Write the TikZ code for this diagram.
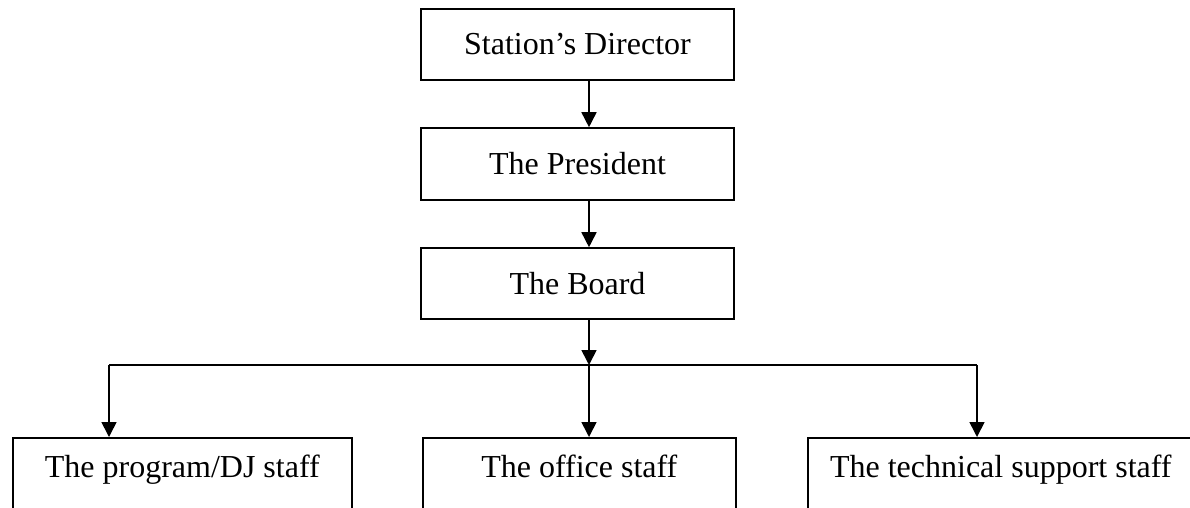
\documentclass[tikz,border=0pt]{standalone}
\usepackage{fontspec}
\setmainfont{Liberation Serif}
\usetikzlibrary{arrows.meta}
\begin{document}
\begin{tikzpicture}[
                x = 1pt, y = -1pt,
                box/.style = {draw, line width = 1.6pt, inner sep = 0mm, minimum width = 313pt, minimum height = 71pt, font = \fontsize{32}{38}\selectfont},
                staff/.style = {draw, line width = 1.6pt, inner sep = 0mm, anchor = north west, minimum height = 120pt},
                txt/.style = {inner sep = 0mm, anchor = base, font = \fontsize{32}{38}\selectfont},
                arr/.style = {draw, line width = 1.6pt, -{Triangle[width = 15pt, length = 15pt]}},
            ]
            \useasboundingbox (0,0) rectangle (1190,507);
            \clip (0,0) rectangle (1190,507);

            \node (dir) [box] at (577.5, 44.5) {Station's Director};
            \node (pres) [box, minimum height = 72pt] at (577.5, 164) {The President};
            \node (board) [box] at (577.5, 283.5) {The Board};

            \node (dj) [staff, minimum width = 339pt] at (12, 437) {};
            \node (office) [staff, minimum width = 313pt] at (422, 437) {};
            \node (tech) [staff, minimum width = 386pt] at (807, 437) {};

            \node (djtxt) [txt] at ([yshift = -40pt]dj.north) {The program/DJ staff};
            \node (officetxt) [txt] at ([yshift = -40pt]office.north) {The office staff};
            \node (techtxt) [txt] at ([yshift = -40pt]tech.north) {The technical support staff};

            \coordinate (bar) at (589, 365);
            \coordinate (bl) at (109, 365);
            \coordinate (br) at (977, 365);

            \path[arr] (dir.south -| bar) -- (pres.north -| bar);
            \path[arr] (pres.south -| bar) -- (board.north -| bar);
            \path[arr] (board.south -| bar) -- (bar);

            \draw[line width = 1.6pt] (bl) -- (br);
            \path[arr] (bl) -- (bl |- dj.north);
            \path[arr] (bar) -- (bar |- office.north);
            \path[arr] (br) -- (br |- tech.north);
        \end{tikzpicture}
\end{document}
